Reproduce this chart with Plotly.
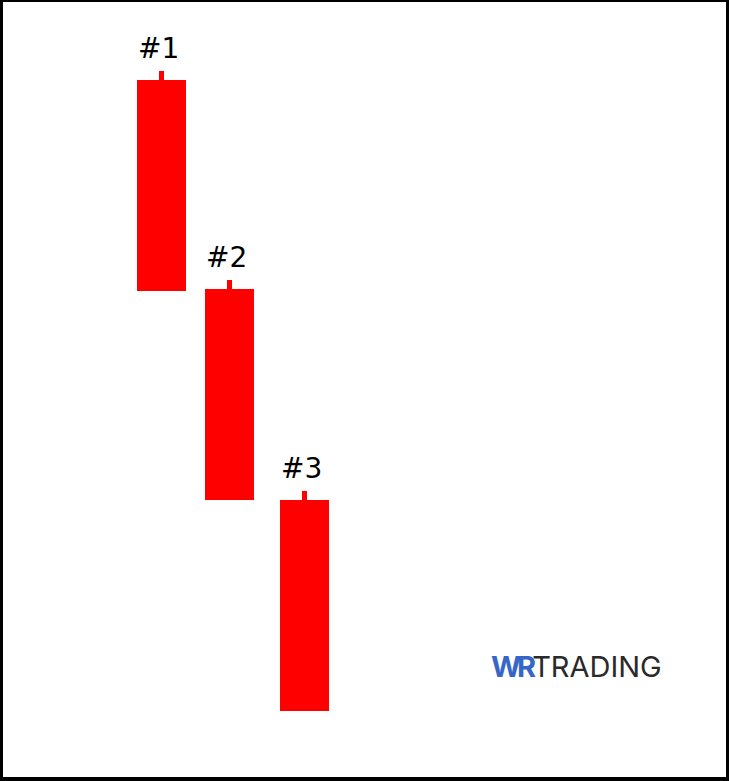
import plotly.graph_objects as go

# Data (price units = pixel-like scale)
labels = ["#1", "#2", "#3"]
x_pos = [161.5, 229.5, 304.5]
opens = [701, 492, 281]
highs = [710, 501, 290]
lows = [490, 281, 70]
closes = [490, 281, 70]

RED = "#FF0000"

fig = go.Figure()
# candle bodies
fig.add_trace(go.Bar(
    x=x_pos, y=[o - c for o, c in zip(opens, closes)], base=closes,
    width=49, marker=dict(color=RED, line=dict(width=0)), hoverinfo="skip"))
# upper wicks
fig.add_trace(go.Bar(
    x=x_pos, y=[h - o for h, o in zip(highs, opens)], base=opens,
    width=5, marker=dict(color=RED, line=dict(width=0)), hoverinfo="skip"))

for lab, xv, hv in zip(labels, x_pos, highs):
    fig.add_annotation(x=xv, y=hv, text=lab, showarrow=False,
                       xanchor="center", yanchor="middle", xshift=-3, yshift=23,
                       font=dict(family="DejaVu Sans", size=28, color="#000000"))

# logo
fig.add_annotation(x=489, y=115, xref="x", yref="y",
                   text='<b><span style="color:#3566c8;letter-spacing:-4px">WR</span></b><span style="color:#2a2a2a">TRADING</span>',
                   showarrow=False, xanchor="left", yanchor="middle",
                   font=dict(family="Inter", size=29))

# border
shapes = [
    dict(type="line", xref="paper", yref="paper", x0=0, x1=0, y0=0, y1=1, line=dict(color="black", width=6)),
    dict(type="line", xref="paper", yref="paper", x0=1, x1=1, y0=0, y1=1, line=dict(color="black", width=6)),
    dict(type="line", xref="paper", yref="paper", x0=0, x1=1, y0=1, y1=1, line=dict(color="black", width=4)),
    dict(type="line", xref="paper", yref="paper", x0=0, x1=1, y0=0, y1=0, line=dict(color="black", width=8)),
]
fig.update_layout(
    shapes=shapes,
    width=729, height=781,
    margin=dict(l=0, r=0, t=0, b=0),
    paper_bgcolor="white", plot_bgcolor="white",
    showlegend=False, barmode="overlay",
    xaxis=dict(range=[0, 729], visible=False, fixedrange=True),
    yaxis=dict(range=[0, 781], visible=False, fixedrange=True),
)
fig.write_html("out.html", config={"displayModeBar": False},
               post_script="document.body.style.margin='0';document.body.style.overflow='hidden';")
